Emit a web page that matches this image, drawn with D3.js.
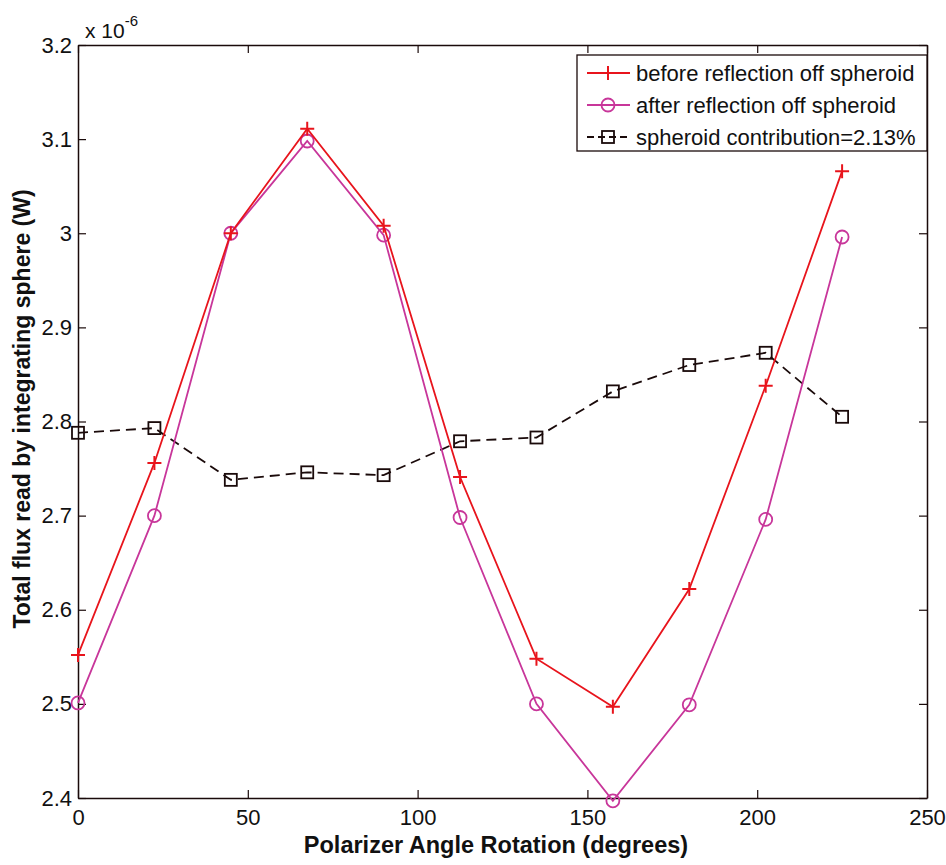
<!DOCTYPE html>
<html>
<head>
<meta charset="utf-8">
<script src="https://cdn.jsdelivr.net/npm/d3@7"></script>
<style>
  html, body { margin: 0; padding: 0; background: #fff; }
  svg { display: block; font-family: "Liberation Sans", Arial, Helvetica, sans-serif; }
</style>
</head>
<body>
<svg id="chart" width="946" height="865"></svg>
<script>
// Polarizer angle (degrees)
const angles = [0, 22.5, 45, 67.5, 90, 112.5, 135, 157.5, 180, 202.5, 225];
// Total flux (x 1e-6 W)
const before = [2.552, 2.756, 3.000, 3.111, 3.008, 2.741, 2.548, 2.497, 2.622, 2.838, 3.066];
const after = [2.501, 2.700, 3.000, 3.098, 2.998, 2.698, 2.500, 2.397, 2.499, 2.696, 2.996];
const contribution = [2.788, 2.793, 2.738, 2.746, 2.743, 2.779, 2.783, 2.832, 2.860, 2.873, 2.805];

const xTicks = [0, 50, 100, 150, 200, 250];
const yTicks = [2.4, 2.5, 2.6, 2.7, 2.8, 2.9, 3.0, 3.1, 3.2];
const legendLabels = ["before reflection off spheroid", "after reflection off spheroid", "spheroid contribution=2.13%"];

const RED = "#e8141c", MAG = "#c8369a", BLK = "#1a0a0a";

const svg = d3.select("#chart");
const m = { left: 78, top: 45, right: 946 - 927, bottom: 865 - 798 };
const W = 946 - m.left - m.right, H = 865 - m.top - m.bottom;

const x = d3.scaleLinear().domain([0, 250]).range([m.left, m.left + W]);
const y = d3.scaleLinear().domain([2.4, 3.2]).range([m.top + H, m.top]);

const g = svg.append("g");

// Axes: boxed frame with inward ticks on all sides
const tickLen = 8;
const fmtY = d => (Math.abs(d - 3) < 1e-9 ? "3" : d3.format(".1f")(d));

const axB = d3.axisBottom(x).tickValues(xTicks).tickSizeInner(-tickLen).tickSizeOuter(0).tickPadding(11);
const axT = d3.axisTop(x).tickValues(xTicks).tickSizeInner(-tickLen).tickSizeOuter(0).tickFormat("");
const axL = d3.axisLeft(y).tickValues(yTicks).tickSizeInner(-tickLen).tickSizeOuter(0).tickPadding(6).tickFormat(fmtY);
const axR = d3.axisRight(y).tickValues(yTicks).tickSizeInner(-tickLen).tickSizeOuter(0).tickFormat("");

function styleAxis(sel) {
  sel.selectAll("path.domain").attr("stroke", BLK).attr("stroke-width", 1.5);
  sel.selectAll(".tick line").attr("stroke", BLK).attr("stroke-width", 1.2);
  sel.selectAll(".tick text").attr("fill", "#111").attr("font-size", 22);
}
g.append("g").attr("transform", `translate(0,${m.top + H})`).call(axB).call(styleAxis);
g.append("g").attr("transform", `translate(0,${m.top})`).call(axT).call(styleAxis);
g.append("g").attr("transform", `translate(${m.left},0)`).call(axL).call(styleAxis);
g.append("g").attr("transform", `translate(${m.left + W},0)`).call(axR).call(styleAxis);

// Exponent label
const expo = g.append("text").attr("x", 85).attr("y", 38).attr("font-size", 21).attr("fill", "#111");
expo.append("tspan").text("x 10");
expo.append("tspan").attr("dy", -12).attr("font-size", 15).text("-6");

// Axis titles
g.append("text")
  .attr("x", 496).attr("y", 853)
  .attr("text-anchor", "middle").attr("font-size", 23.5).attr("font-weight", "bold").attr("fill", "#111")
  .text("Polarizer Angle Rotation (degrees)");
g.append("text")
  .attr("transform", `translate(30,409) rotate(-90)`)
  .attr("text-anchor", "middle").attr("font-size", 23).attr("font-weight", "bold").attr("fill", "#111")
  .text("Total flux read by integrating sphere (W)");

const line = d3.line().x(d => x(d[0])).y(d => y(d[1]));

// Series
const series = [
  { vals: before, color: RED, dash: null, marker: "plus" },
  { vals: after, color: MAG, dash: null, marker: "circle" },
  { vals: contribution, color: BLK, dash: "10,6", marker: "square" }
];

function drawMarker(sel, type, color) {
  if (type === "plus") {
    sel.append("path").attr("d", "M-7,0H7M0,-7V7").attr("stroke", color).attr("stroke-width", 2).attr("fill", "none");
  } else if (type === "circle") {
    sel.append("circle").attr("r", 6.5).attr("stroke", color).attr("stroke-width", 1.8).attr("fill", "none");
  } else {
    sel.append("rect").attr("x", -6).attr("y", -6).attr("width", 12).attr("height", 12)
      .attr("stroke", color).attr("stroke-width", 1.8).attr("fill", "none");
  }
}

// draw order: dashed contribution below, then after, then before
[series[2], series[1], series[0]].forEach(s => {
  const pts = angles.map((a, i) => [a, s.vals[i]]);
  g.append("path").datum(pts).attr("d", line)
    .attr("fill", "none").attr("stroke", s.color).attr("stroke-width", 1.8)
    .attr("stroke-dasharray", s.dash);
  g.append("g").selectAll("g").data(pts).join("g")
    .attr("transform", d => `translate(${x(d[0])},${y(d[1])})`)
    .each(function () { drawMarker(d3.select(this), s.marker, s.color); });
});

// Legend
const lg = g.append("g").attr("transform", "translate(577,55)");
lg.append("rect").attr("width", 350).attr("height", 96).attr("fill", "#fff").attr("stroke", BLK).attr("stroke-width", 1.3);
series.forEach((s, i) => {
  const row = lg.append("g").attr("transform", `translate(0,${18 + i * 32})`);
  row.append("line").attr("x1", 10).attr("x2", 53).attr("stroke", s.color).attr("stroke-width", 1.8)
    .attr("stroke-dasharray", s.dash ? "7,4" : null);
  drawMarker(row.append("g").attr("transform", "translate(31,0)"), s.marker, s.color);
  row.append("text").attr("x", 59).attr("y", 8).attr("font-size", 22).attr("fill", "#111").text(legendLabels[i]);
});
</script>
</body>
</html>
